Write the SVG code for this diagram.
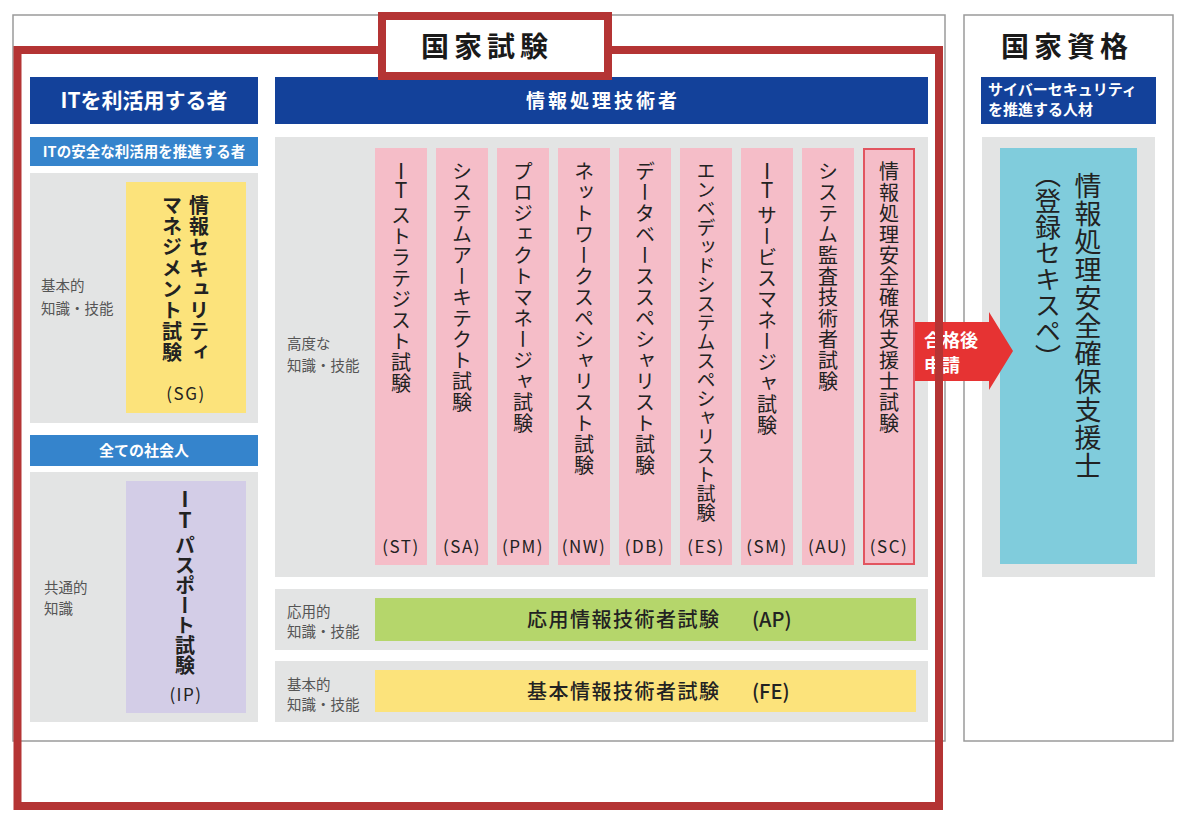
<svg xmlns="http://www.w3.org/2000/svg" width="1200" height="834" viewBox="0 0 1200 834">
<style>
text{font-family:"Noto Sans CJK JP","Noto Sans",sans-serif;fill:#222}
.frame{fill:#fff;stroke:#9a9a9a;stroke-width:1.5}
.panel{fill:#e3e4e4}
.dark{fill:#13419a}
.light{fill:#3584cc}
.pink{fill:#f5bdc8}
.wh{fill:#fff;font-weight:bold}
.lab{fill:#555;font-size:14.5px}
.v{writing-mode:vertical-rl;font-size:20px;letter-spacing:1px}
.lt{font-size:21px;text-anchor:middle}
.code{font-size:17px;letter-spacing:1.5px;text-anchor:middle}
.big{font-size:28px;font-weight:bold;letter-spacing:5px;text-anchor:middle;fill:#1a1a1a}
</style>
<rect width="1200" height="834" fill="#fff"/>
<rect class="frame" x="13" y="15" width="932" height="726"/>
<rect class="frame" x="964" y="15" width="209" height="726"/>

<g id="left-header">
<rect class="dark" x="30" y="77" width="228" height="47"/>
<text class="wh" x="144" y="108" font-size="21" text-anchor="middle">ITを利活用する者</text>
</g>
<g id="sg-header">
<rect class="light" x="30" y="137" width="228" height="29"/>
<text class="wh" x="144" y="156.5" font-size="14.5" text-anchor="middle">ITの安全な利活用を推進する者</text>
</g>
<g id="sg">
<rect class="panel" x="30" y="173" width="228" height="250"/>
<rect x="126" y="182" width="120" height="231" fill="#fce37b"/>
<text class="lab" x="41" y="291">基本的</text>
<text class="lab" x="41" y="314">知識・技能</text>
<text class="v" x="199" y="195" font-weight="bold">情報セキュリティ</text>
<text class="v" x="172" y="195" font-weight="bold">マネジメント試験</text>
<text class="code" x="186" y="400">(SG)</text>
</g>
<g id="ip-header">
<rect class="light" x="30" y="435" width="228" height="31"/>
<text class="wh" x="144" y="455.5" font-size="15" text-anchor="middle">全ての社会人</text>
</g>
<g id="ip">
<rect class="panel" x="30" y="472" width="228" height="250"/>
<rect x="126" y="481" width="120" height="232" fill="#d3cde7"/>
<text class="lab" x="44" y="593">共通的</text>
<text class="lab" x="44" y="614">知識</text>
<text class="lt" x="185" y="507" font-weight="bold">I<tspan x="185" y="528">T</tspan></text>
<text class="v" x="185" y="535" font-weight="bold" style="letter-spacing:0">パスポート試験</text>
<text class="code" x="186" y="701">(IP)</text>
</g>

<g id="mid-header">
<rect class="dark" x="275" y="77" width="653" height="47"/>
<text class="wh" x="603" y="108" font-size="19" text-anchor="middle" letter-spacing="3">情報処理技術者</text>
</g>
<g id="advanced">
<rect class="panel" x="275" y="137" width="653" height="440"/>
<text class="lab" x="287" y="349">高度な</text>
<text class="lab" x="287" y="371">知識・技能</text>
</g>
<g id="st"><rect class="pink" x="375" y="148" width="52" height="417"/><text class="lt" x="401" y="179">I<tspan x="401" y="198">T</tspan></text><text class="v" x="401" y="205">ストラテジスト試験</text><text class="code" x="401" y="553">(ST)</text></g>
<g id="sa"><rect class="pink" x="436" y="148" width="52" height="417"/><text class="v" x="462" y="161">システムアーキテクト試験</text><text class="code" x="462" y="553">(SA)</text></g>
<g id="pm"><rect class="pink" x="497" y="148" width="52" height="417"/><text class="v" x="523" y="161">プロジェクトマネージャ試験</text><text class="code" x="523" y="553">(PM)</text></g>
<g id="nw"><rect class="pink" x="558" y="148" width="52" height="417"/><text class="v" x="584" y="161">ネットワークスペシャリスト試験</text><text class="code" x="584" y="553">(NW)</text></g>
<g id="db"><rect class="pink" x="619" y="148" width="52" height="417"/><text class="v" x="645" y="161">データベーススペシャリスト試験</text><text class="code" x="645" y="553">(DB)</text></g>
<g id="es"><rect class="pink" x="680" y="148" width="52" height="417"/><text class="v" x="706" y="161" style="font-size:19px;letter-spacing:0">エンベデッドシステムスペシャリスト試験</text><text class="code" x="706" y="553">(ES)</text></g>
<g id="sm"><rect class="pink" x="741" y="148" width="52" height="417"/><text class="lt" x="767" y="179">I<tspan x="767" y="198">T</tspan></text><text class="v" x="767" y="205">サービスマネージャ試験</text><text class="code" x="767" y="553">(SM)</text></g>
<g id="au"><rect class="pink" x="802" y="148" width="52" height="417"/><text class="v" x="828" y="161">システム監査技術者試験</text><text class="code" x="828" y="553">(AU)</text></g>
<g id="sc"><rect class="pink" x="864" y="149" width="50" height="415" stroke="#e25560" stroke-width="2"/><text class="v" x="889" y="161">情報処理安全確保支援士試験</text><text class="code" x="889" y="553">(SC)</text></g>

<g id="ap">
<rect class="panel" x="275" y="589" width="653" height="61"/>
<rect x="375" y="598" width="541" height="43" fill="#b5d66b"/>
<text class="lab" x="287" y="617" font-size="14">応用的</text>
<text class="lab" x="287" y="637" font-size="14">知識・技能</text>
<text x="527" y="627" font-size="20" font-weight="500" letter-spacing="1.5">応用情報技術者試験<tspan x="752" letter-spacing="0">(AP)</tspan></text>
</g>
<g id="fe">
<rect class="panel" x="275" y="661" width="653" height="61"/>
<rect x="375" y="670" width="541" height="42" fill="#fce37b"/>
<text class="lab" x="287" y="690" font-size="14">基本的</text>
<text class="lab" x="287" y="710" font-size="14">知識・技能</text>
<text x="527" y="699" font-size="20" font-weight="500" letter-spacing="1.5">基本情報技術者試験<tspan x="752" letter-spacing="0">(FE)</tspan></text>
</g>

<g id="right-title"><text class="big" x="1067" y="57">国家資格</text></g>
<g id="right-header">
<rect class="dark" x="981" y="77" width="175" height="47"/>
<text class="wh" x="988" y="95" font-size="15">サイバーセキュリティ</text>
<text class="wh" x="988" y="115" font-size="15">を推進する人材</text>
</g>
<g id="riss">
<rect class="panel" x="982" y="137" width="173" height="440"/>
<rect x="1000" y="148" width="137" height="416" fill="#80ccdc"/>
<text class="v" x="1088" y="172" style="font-size:27px;letter-spacing:1px">情報処理安全確保支援士</text>
<text class="v" x="1048" y="162" style="font-size:26px;letter-spacing:0">（登録セキスペ）</text>
</g>

<g id="connectors">
<polygon points="915,322 989,322 989,312 1013,351 989,390 989,381 915,381" fill="#e63333"/>
<text class="wh" x="924" y="347" font-size="18">合格後</text>
<text class="wh" x="924" y="372" font-size="18">申請</text>
</g>

<g id="exam-frame">
<rect x="17.5" y="50" width="921.5" height="756" fill="none" stroke="#b43434" stroke-width="8"/>
</g>
<g id="exam-title">
<rect x="382" y="16" width="226" height="60" fill="#fff" stroke="#b43434" stroke-width="8"/>
<text class="big" x="487" y="57">国家試験</text>
</g>
</svg>
